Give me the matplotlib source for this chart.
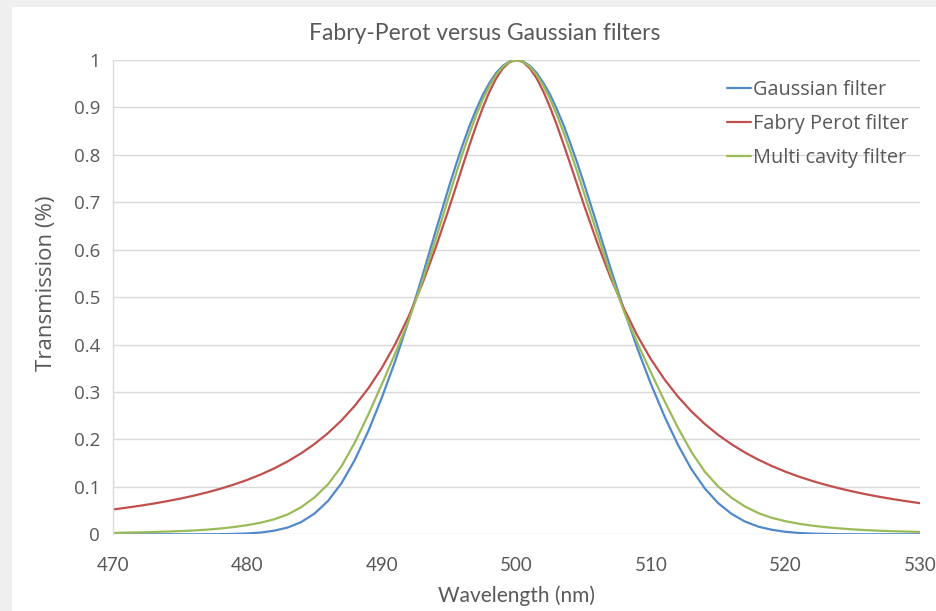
import numpy as np
import matplotlib
matplotlib.use("Agg")
import matplotlib.pyplot as plt
from matplotlib.patches import Rectangle

# wavelength samples (nm): 1 nm steps, 0.5 nm around the peak
wavelength = [
    470, 471, 472, 473, 474, 475, 476, 477, 478, 479,
    480, 481, 482, 483, 484, 485, 486, 487, 488, 489,
    490, 491, 492, 493, 494, 495,
    495.5, 496, 496.5, 497, 497.5, 498, 498.5, 499, 499.5, 500,
    500.5, 501, 501.5, 502, 502.5, 503, 503.5, 504, 504.5,
    505, 506, 507, 508, 509, 510, 511, 512, 513, 514,
    515, 516, 517, 518, 519, 520, 521, 522, 523, 524,
    525, 526, 527, 528, 529, 530,
]

gaussian = [
    0.0000, 0.0000, 0.0000, 0.0000, 0.0000, 0.0000, 0.0000, 0.0001, 0.0003, 0.0008,
    0.0018, 0.0037, 0.0076, 0.0142, 0.0256, 0.0437, 0.0703, 0.1075, 0.1570, 0.2179,
    0.2879, 0.3655, 0.4511, 0.5431, 0.6391, 0.7334,
    0.7782, 0.8203, 0.8597, 0.8947, 0.9261, 0.9516, 0.9728, 0.9879, 0.9970, 1.0000,
    0.9970, 0.9880, 0.9732, 0.9523, 0.9275, 0.8970, 0.8634, 0.8253, 0.7851,
    0.7422, 0.6525, 0.5611, 0.4733, 0.3914, 0.3169, 0.2493, 0.1892, 0.1378, 0.0969,
    0.0657, 0.0429, 0.0268, 0.0160, 0.0095, 0.0053, 0.0028, 0.0014, 0.0007, 0.0003,
    0.0001, 0.0000, 0.0000, 0.0000, 0.0000, 0.0000,
]
fabry_perot = [
    0.0523, 0.0560, 0.0601, 0.0646, 0.0696, 0.0751, 0.0813, 0.0882, 0.0960, 0.1048,
    0.1147, 0.1260, 0.1389, 0.1537, 0.1707, 0.1904, 0.2133, 0.2400, 0.2712, 0.3078,
    0.3507, 0.4011, 0.4598, 0.5274, 0.6040, 0.6880,
    0.7317, 0.7758, 0.8191, 0.8606, 0.8991, 0.9331, 0.9613, 0.9825, 0.9956, 1.0000,
    0.9956, 0.9826, 0.9617, 0.9341, 0.9009, 0.8635, 0.8232, 0.7813, 0.7388,
    0.6965, 0.6154, 0.5414, 0.4757, 0.4185, 0.3692, 0.3269, 0.2906, 0.2595, 0.2327,
    0.2096, 0.1896, 0.1723, 0.1571, 0.1438, 0.1320, 0.1216, 0.1124, 0.1042, 0.0969,
    0.0903, 0.0843, 0.0790, 0.0741, 0.0697, 0.0656,
]
multi_cavity = [
    0.0030, 0.0035, 0.0041, 0.0048, 0.0057, 0.0067, 0.0080, 0.0098, 0.0122, 0.0153,
    0.0193, 0.0245, 0.0316, 0.0418, 0.0570, 0.0778, 0.1053, 0.1431, 0.1937, 0.2526,
    0.3163, 0.3816, 0.4512, 0.5320, 0.6216, 0.7135,
    0.7587, 0.8032, 0.8437, 0.8826, 0.9166, 0.9455, 0.9688, 0.9859, 0.9965, 1.0000,
    0.9965, 0.9860, 0.9692, 0.9463, 0.9181, 0.8851, 0.8480, 0.8085, 0.7664,
    0.7224, 0.6344, 0.5485, 0.4701, 0.4028, 0.3414, 0.2817, 0.2253, 0.1741, 0.1323,
    0.1007, 0.0769, 0.0585, 0.0445, 0.0346, 0.0276, 0.0223, 0.0182, 0.0150, 0.0125,
    0.0104, 0.0088, 0.0075, 0.0065, 0.0057, 0.0050,
]

series = [
    ("Gaussian filter", gaussian, "#5289CB"),
    ("Fabry Perot filter", fabry_perot, "#C0504D"),
    ("Multi cavity filter", multi_cavity, "#9BBB59"),
]

text_grey = "#595959"
grid_grey = "#D9D9D9"

fig = plt.figure(figsize=(9.36, 6.11), dpi=100)
fig.patch.set_facecolor("white")

# window frame around the chart area
fig.patches.append(Rectangle((0, 1 - 7 / 611), 1, 7 / 611, transform=fig.transFigure,
                             facecolor="#EFEFEF", edgecolor="none", zorder=0))
fig.patches.append(Rectangle((0, 0), 12 / 936, 1, transform=fig.transFigure,
                             facecolor="#EFEFEF", edgecolor="none", zorder=0))

ax = fig.add_axes([112.7 / 936, 1 - 534.3 / 611, (920 - 112.7) / 936, (534.3 - 60) / 611])

for name, values, color in series:
    ax.plot(wavelength, values, color=color, lw=1.6, label=name,
            solid_capstyle="round", solid_joinstyle="round")

ax.set_xlim(470, 530)
ax.set_ylim(0, 1)
ax.set_xticks(np.arange(470, 531, 10))
ax.set_yticks(np.arange(0, 1.01, 0.1))
ax.set_yticklabels(["0", "0.1", "0.2", "0.3", "0.4", "0.5", "0.6", "0.7", "0.8", "0.9", "1"])

ax.grid(axis="y", color=grid_grey, lw=1.0)
ax.set_axisbelow(True)
for side in ["top", "right", "bottom"]:
    ax.spines[side].set_visible(False)
ax.spines["left"].set_color(grid_grey)
ax.spines["left"].set_linewidth(1.0)
ax.tick_params(length=0, colors=text_grey)
ax.tick_params(axis="y", pad=9, labelsize=13.5)
ax.tick_params(axis="x", pad=16, labelsize=13.5)
for lbl in ax.get_yticklabels():
    lbl.set_family("Open Sans")
for lbl in ax.get_xticklabels():
    lbl.set_family("Lato")

fig.text(485 / 936, 1 - 33 / 611, "Fabry-Perot versus Gaussian filters",
         ha="center", va="center", fontsize=16.5, color=text_grey, family="Lato")
fig.text(516 / 936, 1 - 596 / 611, "Wavelength (nm)",
         ha="center", va="center", fontsize=15, color=text_grey, family="Lato")
fig.text(47 / 936, 1 - 283 / 611, "Transmission (%)", rotation=90,
         ha="center", va="center", fontsize=16, color=text_grey, family="Open Sans")

leg = ax.legend(loc="upper left", bbox_to_anchor=(0.7386, 0.996), frameon=False,
                handlelength=1.2, handletextpad=0.1, labelspacing=0.71,
                prop={"family": "Open Sans", "size": 14.3})
for txt in leg.get_texts():
    txt.set_color(text_grey)

fig.savefig("out.png", dpi=100)
